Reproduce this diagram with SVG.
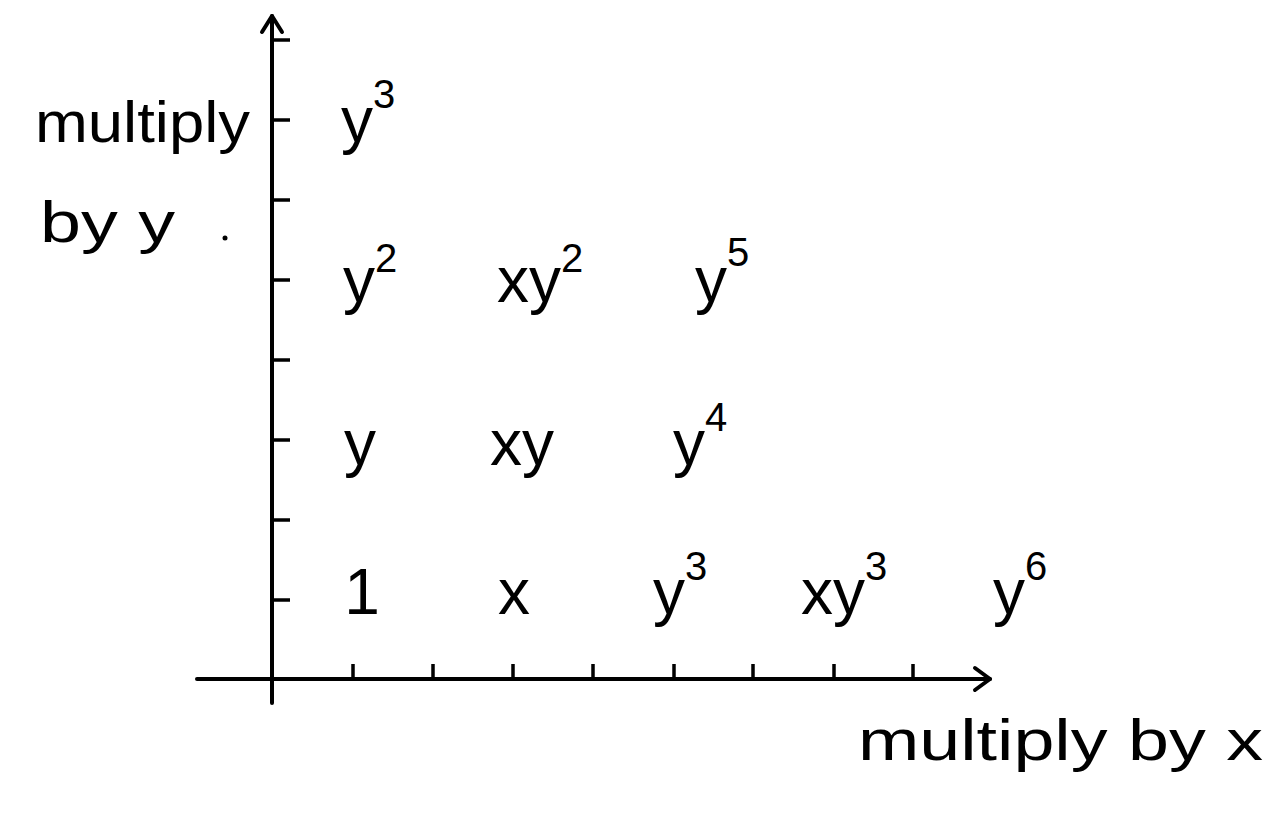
<svg xmlns="http://www.w3.org/2000/svg" width="1279" height="824" viewBox="0 0 1279 824">
<style>
.ax{stroke:#000;stroke-width:4;fill:none;stroke-linecap:round;stroke-linejoin:round}
.tk{stroke:#000;stroke-width:3.5;fill:none}
.t{font-family:"Liberation Sans","DejaVu Sans",sans-serif;font-size:64px;fill:#000;text-anchor:middle}
.lb{font-family:"Liberation Sans","DejaVu Sans",sans-serif;font-size:58px;fill:#000}
.s{font-size:40px}
</style>
<rect width="1279" height="824" fill="#fff"/>
<g id="axes">
  <path class="ax" d="M272,16 V703"/>
  <path class="ax" d="M262,32 L272,16 L282,32"/>
  <path class="ax" d="M197,679 H990"/>
  <path class="ax" d="M975,668 L990,679 L975,690"/>
  <path class="tk" d="M272,40 H290 M272,120 H290 M272,200 H290 M272,280 H290 M272,360 H290 M272,440 H290 M272,520 H290 M272,600 H290"/>
  <path class="tk" d="M353,679 V664 M433,679 V664 M513,679 V664 M593,679 V664 M674,679 V664 M753,679 V664 M834,679 V664 M913,679 V664"/>
</g>
<g id="ylabel">
  <text class="lb" x="35" y="142" textLength="215" lengthAdjust="spacingAndGlyphs">multiply</text>
  <text class="lb" x="40" y="242" textLength="135" lengthAdjust="spacingAndGlyphs">by y</text>
  <circle cx="225" cy="238" r="2.5" fill="#000"/>
</g>
<g id="xlabel">
  <text class="lb" x="858" y="760" textLength="405" lengthAdjust="spacingAndGlyphs">multiply by x</text>
</g>
<g id="row4">
  <text class="t" x="368" y="142">y<tspan class="s" dy="-34">3</tspan></text>
</g>
<g id="row3">
  <text class="t" x="370" y="302">y<tspan class="s" dy="-30">2</tspan></text>
  <text class="t" x="540" y="302">xy<tspan class="s" dy="-30">2</tspan></text>
  <text class="t" x="722" y="302">y<tspan class="s" dy="-36">5</tspan></text>
</g>
<g id="row2">
  <text class="t" x="360" y="465">y</text>
  <text class="t" x="522" y="465">xy</text>
  <text class="t" x="700" y="465">y<tspan class="s" dy="-34">4</tspan></text>
</g>
<g id="row1">
  <text class="t" x="362" y="614">1</text>
  <text class="t" x="514" y="614">x</text>
  <text class="t" x="680" y="614">y<tspan class="s" dy="-34">3</tspan></text>
  <text class="t" x="844" y="614">xy<tspan class="s" dy="-34">3</tspan></text>
  <text class="t" x="1020" y="614">y<tspan class="s" dy="-34">6</tspan></text>
</g>
</svg>
